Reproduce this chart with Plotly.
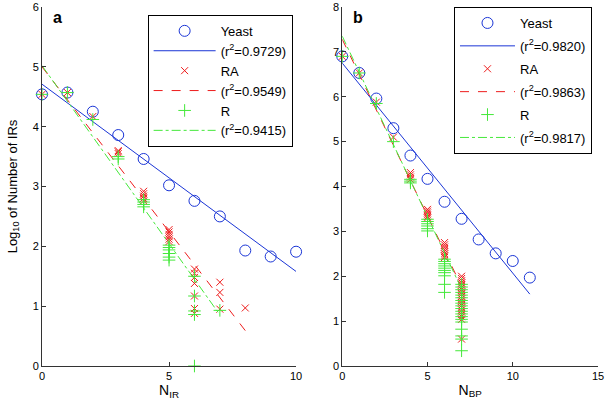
import plotly.graph_objects as go

# ---------------- Panel a data (N_IR) ----------------
a_yeast_x = [0, 1, 2, 3, 4, 5, 6, 7, 8, 9, 10]
a_yeast_y = [4.54, 4.57, 4.25, 3.86, 3.46, 3.02, 2.76, 2.50, 1.93, 1.83, 1.91]

a_ra_x = [0, 1, 2, 3, 3, 3, 4, 4, 4, 4, 4, 5, 5, 5, 5, 5, 5,
          6, 6, 6, 6, 6, 6, 6, 7, 7, 7, 8]
a_ra_y = [4.54, 4.57, 4.17, 3.58, 3.55, 3.60, 2.92, 2.88, 2.84, 2.80, 2.76,
          2.28, 2.24, 2.20, 2.16, 2.12, 2.08,
          1.62, 1.55, 1.48, 1.38, 1.17, 0.96, 0.88, 1.40, 1.23, 0.95, 0.97]

a_r_x = [0, 1, 2, 3, 3, 4, 4, 4, 4, 5, 5, 5, 5, 5, 5, 6, 6, 6, 6, 6, 7]
a_r_y = [4.54, 4.57, 4.12, 3.50, 3.46, 2.78, 2.74, 2.70, 2.66,
         2.02, 1.98, 1.94, 1.88, 1.82, 1.77, 1.50, 1.17, 0.92, 0.86, 0.0, 0.93]

a_fit_labels = ["(r<sup>2</sup>=0.9729)", "(r<sup>2</sup>=0.9549)", "(r<sup>2</sup>=0.9415)"]
a_fit_intercepts = [4.71, 5.00, 5.02]
a_fit_slopes = [-0.313, -0.551, -0.595]
a_fit_xmax = [10, 8, 7]

# ---------------- Panel b data (N_BP) ----------------
b_yeast_x = [0, 1, 2, 3, 4, 5, 6, 7, 8, 9, 10, 11]
b_yeast_y = [6.90, 6.53, 5.96, 5.30, 4.69, 4.17, 3.66, 3.28, 2.82, 2.51, 2.34, 1.97]

b_ra_x = ([0, 1, 2, 3] + [4] * 4 + [5] * 6 + [6] * 8 + [7] * 21)
b_ra_y = [6.90, 6.53, 5.88, 5.10,
          4.31, 4.26, 4.21, 4.16,
          3.49, 3.45, 3.41, 3.37, 3.33, 3.30,
          2.75, 2.70, 2.65, 2.60, 2.55, 2.50, 2.45, 2.42,
          2.00, 1.95, 1.90, 1.85, 1.80, 1.75, 1.70, 1.65, 1.60, 1.55, 1.50,
          1.45, 1.40, 1.35, 1.30, 1.25, 1.20, 1.15, 1.10, 1.04, 0.60]

b_r_x = ([0, 1, 2, 3] + [4] * 3 + [5] * 6 + [6] * 10 + [7] * 19)
b_r_y = [6.90, 6.53, 5.85, 5.00,
         4.16, 4.12, 4.08,
         3.27, 3.22, 3.17, 3.12, 3.06, 3.01,
         2.38, 2.33, 2.28, 2.23, 2.18, 2.13, 2.08, 2.01, 1.82, 1.64,
         1.82, 1.76, 1.70, 1.64, 1.58, 1.52, 1.46, 1.40, 1.34, 1.28, 1.22,
         1.16, 1.10, 1.04, 0.98, 0.82, 0.67, 0.60, 0.34]

b_fit_labels = ["(r<sup>2</sup>=0.9820)", "(r<sup>2</sup>=0.9863)", "(r<sup>2</sup>=0.9817)"]
b_fit_intercepts = [6.75, 7.28, 7.35]
b_fit_slopes = [-0.468, -0.787, -0.805]
b_fit_xmax = [11, 7, 7]

series_names = ["Yeast", "RA", "R"]

# ---------------- styling ----------------
BLUE = "#1a35d6"
RED = "#ee1c1c"
GREEN = "#44e83a"
FONT = "Liberation Sans, Arial, sans-serif"

fig = go.Figure()


def add_panel(xa, ya, legend, pts, fits, tag):
    colors = [BLUE, RED, GREEN]
    symbols = ["circle-open", "x-thin", "cross-thin"]
    sizes = [11, 7, 9]
    dashes = ["solid", "dash", "dashdot"]
    labels, icepts, slopes, xmax = fits
    for i, (px, py) in enumerate(pts):
        fig.add_trace(go.Scatter(
            x=px, y=py, mode="markers", name=series_names[i],
            legendgroup=f"{tag}m{i}",
            marker=dict(symbol=symbols[i], size=sizes[i], color=colors[i],
                        line=dict(width=1, color=colors[i])),
            xaxis=xa, yaxis=ya, legend=legend, cliponaxis=False))
        lx = [0, xmax[i]]
        ly = [icepts[i] + slopes[i] * v for v in lx]
        fig.add_trace(go.Scatter(
            x=lx, y=ly, mode="lines", name=labels[i],
            legendgroup=f"{tag}l{i}",
            line=dict(color=colors[i], width=1, dash=dashes[i]),
            xaxis=xa, yaxis=ya, legend=legend, cliponaxis=False))


add_panel("x", "y", "legend",
          [(a_yeast_x, a_yeast_y), (a_ra_x, a_ra_y), (a_r_x, a_r_y)],
          (a_fit_labels, a_fit_intercepts, a_fit_slopes, a_fit_xmax), "a")
add_panel("x2", "y2", "legend2",
          [(b_yeast_x, b_yeast_y), (b_ra_x, b_ra_y), (b_r_x, b_r_y)],
          (b_fit_labels, b_fit_intercepts, b_fit_slopes, b_fit_xmax), "b")

axis_common = dict(showline=True, linecolor="#333333", linewidth=1,
                   ticks="inside", ticklen=4, tickcolor="#333333",
                   showgrid=False, zeroline=False, mirror=False,
                   automargin=False,
                   tickfont=dict(size=11, color="black", family=FONT))

legend_common = dict(bordercolor="black", borderwidth=1, bgcolor="white",
                     font=dict(size=13, family=FONT, color="black"),
                     xanchor="left", yanchor="top")

fig.update_layout(
    width=605, height=409,
    margin=dict(l=42, r=7, t=7, b=43),
    paper_bgcolor="white", plot_bgcolor="white",
    font=dict(family=FONT, color="black"),
    xaxis=dict(domain=[0, 0.457], range=[0, 10], tickvals=[0, 5, 10],
               title=dict(text="N<sub>IR</sub>", font=dict(size=14), standoff=3),
               **axis_common),
    yaxis=dict(range=[0, 6], tickvals=[0, 1, 2, 3, 4, 5, 6],
               title=dict(text="Log<sub>10</sub> of Number of IRs",
                          font=dict(size=13), standoff=12),
               **axis_common),
    xaxis2=dict(domain=[0.54, 1.0], range=[0, 15], tickvals=[0, 5, 10, 15],
                title=dict(text="N<sub>BP</sub>", font=dict(size=14), standoff=3),
                anchor="y2", **axis_common),
    yaxis2=dict(range=[0, 8], tickvals=list(range(0, 9)), anchor="x2",
                **axis_common),
    legend=dict(x=0.19, y=0.978, itemwidth=62, traceorder="normal",
                **legend_common),
    legend2=dict(x=0.741, y=1.0, itemwidth=55, traceorder="grouped",
                 tracegroupgap=3, **legend_common),
    showlegend=True,
    annotations=[
        dict(text="<b>a</b>", xref="x domain", yref="y domain", x=0.035, y=1.0,
             xanchor="left", yanchor="top", showarrow=False,
             font=dict(size=16, family=FONT)),
        dict(text="<b>b</b>", xref="x2 domain", yref="y2 domain", x=0.035, y=1.0,
             xanchor="left", yanchor="top", showarrow=False,
             font=dict(size=16, family=FONT)),
    ],
)

fig.write_html("out.html", config={"displayModeBar": False},
               post_script="document.body.style.margin='0';document.body.style.padding='0';")
